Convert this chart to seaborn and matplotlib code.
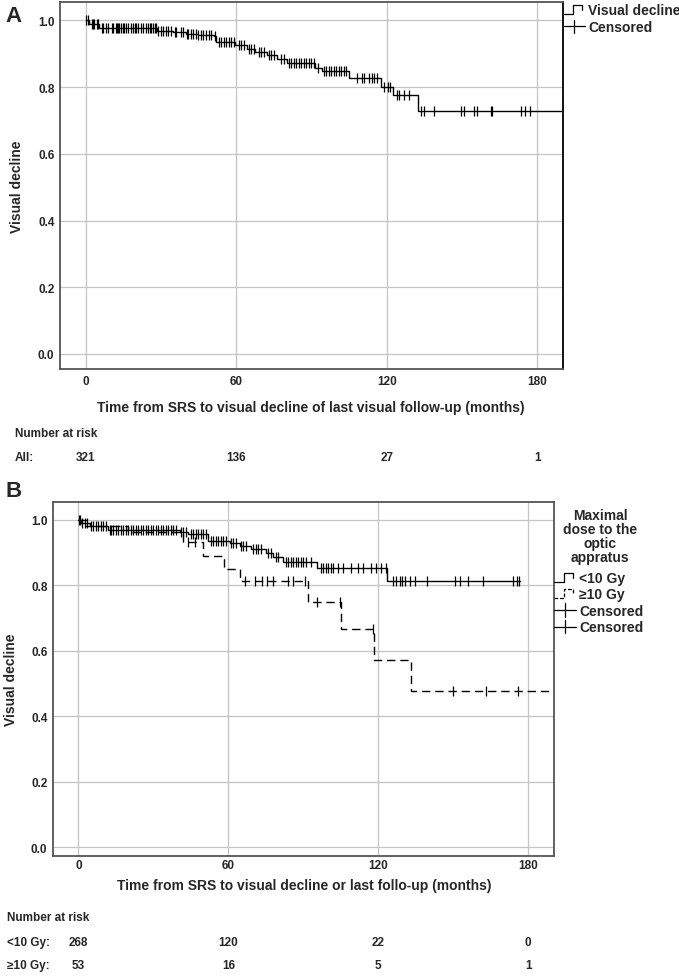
import numpy as np
import pandas as pd
import matplotlib
matplotlib.use('Agg')
import matplotlib.pyplot as plt
import seaborn as sns
from matplotlib.lines import Line2D
from matplotlib.legend_handler import HandlerBase
from matplotlib.transforms import blended_transform_factory

# ---- panel A: all patients (Kaplan-Meier steps) ----
a_step_t = [0, 1.5, 5.5, 28.3, 35, 40, 44.7, 51, 52, 59.6, 64.3, 67.6, 72.3, 76.3,
            80.3, 91.6, 94.3, 104.8, 117.9, 122.7, 132.5, 189.5]
a_step_s = [1.0, 0.99, 0.977, 0.967, 0.965, 0.96, 0.957, 0.953, 0.935, 0.925, 0.915,
            0.905, 0.895, 0.885, 0.872, 0.858, 0.847, 0.827, 0.80, 0.775, 0.727, 0.727]
a_cens_t = [0.3, 1, 2.5, 3, 3.5, 4.5, 5, 6.5, 7, 8, 9, 10.5, 11, 12, 12.5, 13, 13.5, 14,
            15, 15.5, 16, 17, 18, 19, 19.5, 20, 21, 22, 23, 24, 25, 25.5, 26, 27, 27.5,
            28, 29, 30, 31, 32, 33, 34, 35.5, 36, 38, 39, 40.5, 41, 42, 43, 44, 45, 46,
            47, 48, 49, 50, 51.5, 53, 54, 55, 56, 57, 58, 59, 61, 62, 63, 65, 66, 67,
            69, 70, 71, 73, 74, 75, 78, 79, 81, 82, 83, 84, 85, 86, 87, 88, 89, 90, 91,
            92.5, 95, 96, 97, 98, 99, 100, 101, 102, 103, 104, 108, 110, 111, 113, 114,
            115, 116, 119, 120.5, 121.5, 124, 125, 127, 129, 133.5, 135, 139, 149.5,
            151, 155, 156, 161.5, 162, 173.5, 175, 177]

# ---- panel B: by maximal dose to the optic apparatus ----
b_lo_t = [0, 0.9, 4.7, 12, 40.7, 44, 52, 60.7, 64.7, 69, 75, 78, 82, 95.6, 123.4, 176.7]
b_lo_s = [1.0, 0.99, 0.982, 0.97, 0.963, 0.957, 0.936, 0.929, 0.921, 0.91, 0.90,
          0.886, 0.872, 0.852, 0.813, 0.813]
b_lo_cens = [0.3, 1.5, 2.5, 3.5, 5, 6, 7, 8, 9, 10, 11, 12.5, 13, 14, 15, 16, 17, 18,
             19, 20, 21, 22, 23, 24, 25, 26, 27, 28, 29, 30, 31, 32, 33, 34, 35, 36, 37,
             38, 39, 41, 42, 43, 45, 46, 47, 48, 49, 50, 51, 53, 54, 55, 56, 57, 58, 59,
             61, 62, 63, 65, 66, 67, 70, 71, 72, 73, 76, 77, 79, 80, 83, 84, 85, 86, 87,
             88, 89, 90, 91, 93, 97, 98, 99, 100, 101, 102, 104, 106, 109, 112, 114, 117,
             119, 121, 123, 126, 127, 128.7, 129.4, 130.7, 132.7, 134.7, 139.4, 150.7,
             152.7, 156, 162, 174, 175.4, 176.4]
b_hi_t = [0, 3, 20, 42, 49.8, 58.3, 64.7, 92, 105, 118.2, 133, 189.5]
b_hi_s = [1.0, 0.981, 0.962, 0.932, 0.89, 0.851, 0.813, 0.75, 0.668, 0.572, 0.476, 0.476]
b_hi_cens = [0.5, 44, 46.5, 66.5, 70.7, 73.4, 75.4, 78, 84, 86, 90.7, 95.5, 104.5,
             118, 150, 163, 176]

risk_times = [0, 60, 120, 180]
risk_all = [321, 136, 27, 1]
risk_lo = [268, 120, 22, 0]
risk_hi = [53, 16, 5, 1]

sns.set_style('white')
NARROW = ['Liberation Sans Narrow', 'Liberation Sans', 'DejaVu Sans']
WIDE = ['Liberation Sans', 'DejaVu Sans']
plt.rcParams['font.family'] = WIDE

W, H = 679, 978
fig = plt.figure(figsize=(W / 100, H / 100), dpi=100)


def px_axes(l, t, r, b):
    return fig.add_axes([l / W, 1 - b / H, (r - l) / W, (b - t) / H])


def cens_y(step_t, step_s, ct):
    idx = np.searchsorted(step_t, ct, side='right') - 1
    return np.asarray(step_s)[idx]


class StepHandler(HandlerBase):
    def __init__(self, dashed=False):
        super().__init__()
        self.dashed = dashed

    def create_artists(self, legend, orig_handle, xd, yd, w, h, fontsize, trans):
        x0, y0 = -xd, -yd
        xs = [x0, x0 + 0.45 * w, x0 + 0.45 * w, x0 + 0.85 * w, x0 + 0.85 * w]
        ys = [y0 + 0.05 * h, y0 + 0.05 * h, y0 + 0.95 * h, y0 + 0.95 * h, y0 + 0.45 * h]
        ln = Line2D(xs, ys, color='black', lw=0.9,
                    ls=(0, (3, 1.5)) if self.dashed else '-')
        ln.set_transform(trans)
        return [ln]


class CensorHandler(HandlerBase):
    def create_artists(self, legend, orig_handle, xd, yd, w, h, fontsize, trans):
        x0, y0 = -xd, -yd
        l1 = Line2D([x0, x0 + w], [y0 + 0.5 * h, y0 + 0.5 * h], color='black', lw=0.9)
        l2 = Line2D([x0 + 0.5 * w, x0 + 0.5 * w], [y0 - 0.2 * h, y0 + 1.2 * h],
                    color='black', lw=0.9)
        l1.set_transform(trans)
        l2.set_transform(trans)
        return [l1, l2]


def style_axes(ax, ybottom, xpad):
    ax.set_xlim(-10.2, 190.3)
    ax.set_ylim(ybottom, 1.055)
    ax.set_xticks(risk_times)
    ax.set_yticks([0.0, 0.2, 0.4, 0.6, 0.8, 1.0])
    ax.set_yticklabels(['0.0', '0.2', '0.4', '0.6', '0.8', '1.0'])
    ax.grid(True, color='#c4c4c4', lw=0.9)
    ax.set_axisbelow(True)
    ax.tick_params(length=0, labelsize=8.5)
    ax.tick_params(axis='y', pad=4)
    ax.tick_params(axis='x', pad=xpad)
    for lab in ax.get_xticklabels() + ax.get_yticklabels():
        lab.set_fontweight('bold')
        lab.set_family(NARROW)
    for sp in ax.spines.values():
        sp.set_color('#555555')
        sp.set_linewidth(1.3)
    ax.set_xlabel('')
    ax.set_ylabel('')


def km(ax, step_t, step_s, cens_t, ls='-'):
    sns.lineplot(x=step_t, y=step_s, drawstyle='steps-post', color='black', lw=1.0,
                 linestyle=ls, estimator=None, sort=False, ax=ax)
    sns.scatterplot(x=cens_t, y=cens_y(step_t, step_s, cens_t), marker='|', s=42,
                    color='black', linewidth=0.9, ax=ax, zorder=3)


# ---------------- panel A ----------------
axA = px_axes(60, 3, 563, 370)
km(axA, a_step_t, a_step_s, a_cens_t)
style_axes(axA, -0.045, 4)
axA.spines['right'].set_color('black')

hA1, hA2 = Line2D([], []), Line2D([], [])
axA.legend([hA1, hA2], ['Visual decline', 'Censored'],
           handler_map={hA1: StepHandler(), hA2: CensorHandler()},
           loc='upper left', bbox_to_anchor=(1.0, 1.0), frameon=False,
           borderaxespad=0, borderpad=0.1, handlelength=1.45, handletextpad=0.25,
           labelspacing=0.2, prop=dict(weight='bold', size=10, family=WIDE))

fig.text(14 / W, 1 - 16 / H, 'A', fontsize=16, fontweight='bold', ha='center', va='center')
fig.text(17 / W, 1 - 187 / H, 'Visual decline', rotation=90, fontsize=10,
         fontweight='bold', family=NARROW, ha='center', va='center')
fig.text(311 / W, 1 - 408 / H,
         'Time from SRS to visual decline of last visual follow-up (months)',
         fontsize=10, fontweight='bold', family=NARROW, ha='center', va='center')

trA = blended_transform_factory(axA.transData, fig.transFigure)
fig.text(15 / W, 1 - 434 / H, 'Number at risk', fontsize=8.5, fontweight='bold',
         family=NARROW, va='center')
fig.text(15 / W, 1 - 458 / H, 'All:', fontsize=8.5, fontweight='bold',
         family=NARROW, va='center')
for t, n in zip(risk_times, risk_all):
    axA.text(t, 1 - 458 / H, str(n), transform=trA, fontsize=8.5, fontweight='bold',
             family=NARROW, ha='center', va='center')

# ---------------- panel B ----------------
axB = px_axes(53, 503, 554, 857)
km(axB, b_lo_t, b_lo_s, b_lo_cens)
km(axB, b_hi_t, b_hi_s, b_hi_cens, ls=(0, (6, 3.5)))
style_axes(axB, -0.0275, 2)

fig.text(600 / W, 1 - 509 / H, 'Maximal\ndose to the\noptic\napprtus'.replace('prt', 'prat'),
         fontsize=10, fontweight='bold', ha='center', va='top', linespacing=1.0)

hB = [Line2D([], []) for _ in range(4)]
axB.legend(hB, ['<10 Gy', '\u226510 Gy', 'Censored', 'Censored'],
           handler_map={hB[0]: StepHandler(), hB[1]: StepHandler(dashed=True),
                        hB[2]: CensorHandler(), hB[3]: CensorHandler()},
           loc='upper left', bbox_to_anchor=(554 / W, 1 - 572 / H),
           bbox_transform=fig.transFigure, frameon=False, borderaxespad=0,
           borderpad=0, handlelength=1.6, handletextpad=0.2,
           labelspacing=0.18, prop=dict(weight='bold', size=10, family=WIDE))

fig.text(14 / W, 1 - 492 / H, 'B', fontsize=16, fontweight='bold', ha='center', va='center')
fig.text(11 / W, 1 - 680 / H, 'Visual decline', rotation=90, fontsize=10,
         fontweight='bold', family=NARROW, ha='center', va='center')
fig.text(304 / W, 1 - 886 / H,
         'Time from SRS to visual decline or last follo-up (months)',
         fontsize=10, fontweight='bold', family=NARROW, ha='center', va='center')

trB = blended_transform_factory(axB.transData, fig.transFigure)
fig.text(7 / W, 1 - 918 / H, 'Number at risk', fontsize=8.5, fontweight='bold',
         family=NARROW, va='center')
for lab, vals, y in [('<10 Gy:', risk_lo, 943), ('\u226510 Gy:', risk_hi, 966)]:
    fig.text(7 / W, 1 - y / H, lab, fontsize=8.5, fontweight='bold', family=NARROW,
             va='center')
    for t, n in zip(risk_times, vals):
        axB.text(t, 1 - y / H, str(n), transform=trB, fontsize=8.5, fontweight='bold',
                 family=NARROW, ha='center', va='center')

fig.savefig('out.png', dpi=100, facecolor='white')
